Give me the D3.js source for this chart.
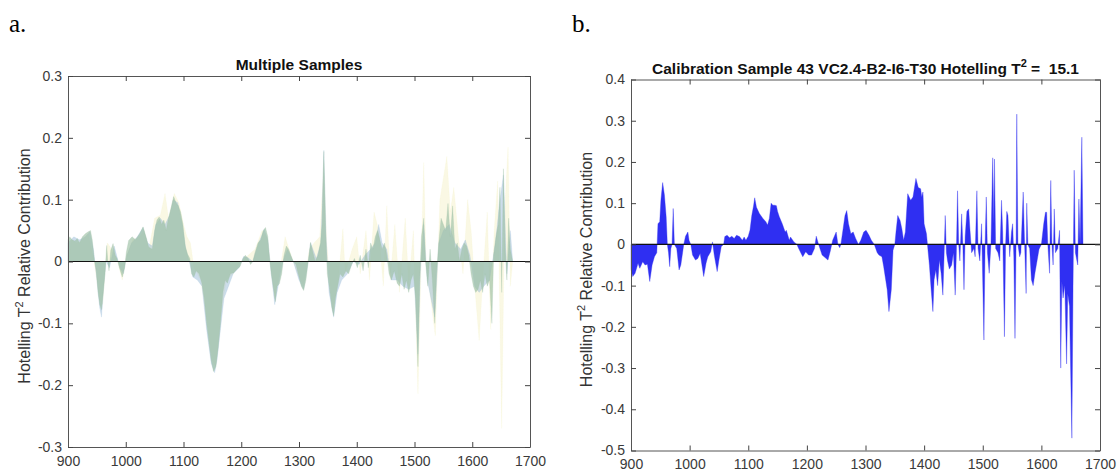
<!DOCTYPE html>
<html lang="en">
<head>
<meta charset="UTF-8"/>
<title>Hotelling T2 contributions</title>
<script src="https://d3js.org/d3.v7.min.js"></script>
<style>
  body { margin: 0; background: #fff; }
  svg { display: block; }
  .tick text { font-family: "Liberation Sans", Arial, sans-serif; font-size: 14px; fill: #3a3a3a; }
</style>
</head>
<body>
<script>

var w = 1118;
var h = 475;

// tick labels
var xTicks = [900, 1000, 1100, 1200, 1300, 1400, 1500, 1600, 1700];
var aYTicks = [-0.3, -0.2, -0.1, 0, 0.1, 0.2, 0.3];
var bYTicks = [-0.5, -0.4, -0.3, -0.2, -0.1, 0, 0.1, 0.2, 0.3, 0.4];

// panel a: several samples overlaid, [wavenumber, contribution]
var sampleYellow = [
  [900,-0.02],[905,0.035],[915,0.03],[925,0.035],[935,0.045],[945,0.0],[955,-0.06],[960,-0.07],[968,0.03],[976,0.02],
  [986,0.0],[994,-0.03],[1002,0.01],[1012,0.035],[1024,0.04],[1032,0.05],[1040,0.02],[1050,0.07],[1060,0.075],[1068,0.11],
  [1074,0.07],[1084,0.11],[1092,0.095],[1100,0.06],[1106,0.04],[1112,0.03],[1118,-0.01],[1130,-0.03],[1140,-0.09],[1150,-0.16],
  [1156,-0.17],[1164,-0.09],[1174,-0.03],[1186,-0.02],[1200,0.0],[1212,0.01],[1224,0.02],[1236,0.05],[1244,0.04],[1250,0.0],
  [1258,-0.06],[1266,-0.02],[1276,0.04],[1286,0.01],[1298,-0.02],[1308,-0.04],[1318,0.02],[1326,0.03],[1336,0.04],[1343,0.16],
  [1348,0.03],[1358,-0.08],[1368,-0.03],[1376,0.053],[1380,-0.02],[1392,0.02],[1400,0.04],[1406,-0.02],[1416,0.05],[1422,-0.03],
  [1430,0.08],[1438,0.05],[1446,-0.04],[1452,0.09],[1458,-0.03],[1466,0.06],[1474,-0.05],[1484,0.07],[1490,-0.04],[1498,0.05],
  [1506,-0.214],[1512,0.02],[1516,0.16],[1520,0.0],[1528,-0.06],[1536,-0.12],[1544,0.1],[1556,0.17],[1562,0.08],[1568,0.12],
  [1576,0.04],[1584,-0.02],[1592,0.1],[1598,0.05],[1606,-0.06],[1612,-0.128],[1618,-0.03],[1626,0.08],[1632,-0.11],[1638,0.05],
  [1644,0.13],[1651,-0.27],[1656,0.08],[1662,0.185],[1666,-0.04],[1670,0.0]
];

var sampleBlue = [
  [900,0.03],[910,0.04],[920,0.035],[930,0.04],[938,0.048],[944,0.02],[950,-0.03],[955,-0.075],[958,-0.09],[962,-0.04],
  [966,0.0],[972,-0.01],[980,0.025],[990,-0.01],[996,-0.02],[1002,0.01],[1010,0.03],[1020,0.04],[1030,0.055],[1038,0.03],
  [1046,0.025],[1052,0.06],[1060,0.07],[1068,0.06],[1076,0.075],[1082,0.1],[1090,0.095],[1098,0.06],[1104,0.02],[1110,0.0],
  [1116,-0.025],[1124,-0.03],[1132,-0.04],[1140,-0.11],[1148,-0.165],[1154,-0.18],[1158,-0.16],[1164,-0.11],[1170,-0.06],[1178,-0.04],
  [1186,-0.02],[1196,-0.01],[1204,0.008],[1212,0.006],[1220,0.0],[1230,0.03],[1240,0.052],[1246,0.035],[1252,-0.02],[1258,-0.07],
  [1264,-0.04],[1272,0.0],[1280,0.02],[1290,0.0],[1300,-0.03],[1308,-0.045],[1316,0.0],[1320,0.03],[1330,0.005],[1338,0.03],
  [1343,0.18],[1347,0.04],[1352,-0.05],[1360,-0.09],[1366,-0.05],[1374,-0.03],[1384,-0.02],[1394,0.0],[1404,-0.005],[1414,0.01],
  [1424,0.02],[1432,0.03],[1438,0.06],[1444,0.03],[1452,0.02],[1460,-0.03],[1470,-0.03],[1480,-0.04],[1490,-0.045],[1500,-0.04],
  [1506,-0.15],[1510,-0.02],[1516,0.06],[1522,-0.03],[1535,-0.09],[1542,0.03],[1550,0.05],[1560,0.06],[1570,0.03],[1580,0.02],
  [1588,0.035],[1596,0.01],[1604,-0.04],[1612,-0.05],[1620,-0.04],[1630,-0.03],[1640,0.03],[1648,0.1],[1654,0.14],[1660,-0.02],
  [1666,0.05],[1670,0.0]
];

var sampleGreen = [
  [900,0.035],[903,0.04],[907,0.035],[912,0.033],[916,0.037],[920,0.03],[925,0.04],[930,0.045],[935,0.048],[939,0.05],
  [942,0.035],[946,0.0],[949,-0.015],[952,-0.05],[955,-0.07],[958,-0.078],[961,-0.05],[964,-0.02],[967,0.026],[969,0.0],
  [971,-0.015],[974,0.018],[978,0.029],[982,0.01],[985,0.005],[989,-0.01],[994,-0.025],[998,-0.01],[1001,0.015],[1005,0.034],
  [1011,0.04],[1017,0.035],[1024,0.045],[1030,0.056],[1035,0.04],[1040,0.023],[1046,0.02],[1050,0.05],[1054,0.067],[1058,0.072],
  [1062,0.06],[1066,0.067],[1070,0.05],[1074,0.07],[1079,0.088],[1083,0.105],[1087,0.095],[1091,0.09],[1095,0.08],[1099,0.06],
  [1103,0.025],[1107,0.012],[1111,0.005],[1114,-0.02],[1118,-0.025],[1122,-0.015],[1127,-0.02],[1132,-0.035],[1136,-0.06],[1140,-0.1],
  [1144,-0.13],[1148,-0.16],[1152,-0.178],[1156,-0.17],[1160,-0.14],[1164,-0.1],[1168,-0.05],[1172,-0.03],[1176,-0.035],[1181,-0.02],
  [1187,-0.018],[1193,-0.012],[1198,-0.008],[1203,0.005],[1207,0.01],[1212,0.005],[1216,-0.005],[1220,0.0],[1224,0.015],[1229,0.03],
  [1234,0.035],[1238,0.05],[1242,0.055],[1246,0.04],[1249,0.005],[1252,-0.02],[1256,-0.045],[1259,-0.065],[1262,-0.04],[1266,-0.036],
  [1270,-0.02],[1274,0.01],[1278,0.025],[1282,0.02],[1286,0.01],[1290,0.0],[1295,-0.005],[1300,-0.025],[1304,-0.04],[1308,-0.047],
  [1312,-0.03],[1316,0.0],[1320,0.031],[1324,0.015],[1328,0.0],[1333,0.01],[1337,0.03],[1340,0.06],[1343,0.178],[1346,0.05],
  [1349,-0.02],[1353,-0.045],[1357,-0.075],[1360,-0.088],[1363,-0.06],[1367,-0.04],[1371,-0.02],[1376,-0.025],[1381,-0.015],[1386,-0.02],
  [1391,-0.005],[1396,0.005],[1401,-0.01],[1406,0.01],[1411,-0.015],[1416,0.02],[1420,-0.01],[1424,0.03],[1428,0.02],[1432,0.04],
  [1436,0.05],[1440,0.035],[1444,0.02],[1448,0.03],[1452,0.01],[1456,-0.02],[1460,-0.03],[1465,-0.015],[1470,-0.035],[1474,-0.04],
  [1478,-0.02],[1482,-0.045],[1486,-0.03],[1490,-0.05],[1494,-0.03],[1498,-0.02],[1502,-0.06],[1506,-0.17],[1509,-0.03],[1512,0.04],
  [1516,0.07],[1519,0.0],[1523,-0.04],[1527,0.02],[1531,-0.03],[1535,-0.1],[1538,-0.02],[1542,0.03],[1546,0.07],[1550,0.06],
  [1554,0.05],[1558,0.094],[1562,0.04],[1566,0.09],[1570,0.02],[1574,0.03],[1578,0.0],[1582,0.02],[1586,0.03],[1590,0.025],
  [1594,0.01],[1598,-0.02],[1602,-0.04],[1606,-0.05],[1610,-0.045],[1614,-0.03],[1618,-0.05],[1622,-0.02],[1626,-0.04],[1630,-0.03],
  [1634,-0.1],[1637,0.01],[1641,0.04],[1645,0.06],[1648,0.12],[1651,-0.05],[1654,0.15],[1657,0.02],[1660,-0.03],[1663,0.07],
  [1666,0.02],[1670,0.0]
];

// panel b: calibration sample 43
var sample43 = [
  [900,-0.06],[903,-0.078],[907,-0.07],[912,-0.046],[915,-0.058],[920,-0.042],[924,-0.05],[928,-0.048],[932,-0.09],[936,-0.05],
  [940,-0.03],[944,-0.02],[946,0.05],[949,0.055],[951,0.107],[954,0.15],[957,0.12],[960,0.067],[962,0.0],[964,-0.02],
  [966,-0.054],[968,-0.01],[970,0.0],[972,0.087],[974,0.0],[978,-0.01],[982,-0.062],[985,-0.05],[988,-0.02],[990,0.0],
  [993,0.02],[997,0.03],[999,0.01],[1002,0.0],[1005,-0.026],[1010,-0.038],[1014,-0.034],[1018,-0.022],[1024,-0.078],[1028,-0.046],
  [1031,-0.03],[1036,-0.018],[1039,0.006],[1042,-0.026],[1047,-0.066],[1050,-0.038],[1054,-0.005],[1058,0.0],[1060,0.019],[1064,0.022],
  [1068,0.016],[1072,0.02],[1076,0.014],[1080,0.022],[1085,0.019],[1090,0.01],[1093,0.018],[1096,0.01],[1100,0.02],[1103,0.035],
  [1106,0.07],[1109,0.093],[1111,0.113],[1114,0.09],[1119,0.075],[1125,0.063],[1130,0.055],[1133,0.047],[1136,0.063],[1139,0.1],
  [1142,0.095],[1145,0.095],[1148,0.094],[1150,0.08],[1153,0.067],[1158,0.05],[1163,0.03],[1165,0.034],[1170,0.01],[1172,0.018],
  [1178,0.006],[1183,0.0],[1186,-0.01],[1193,-0.03],[1198,-0.018],[1203,-0.026],[1208,-0.026],[1213,-0.01],[1216,0.02],[1220,0.0],
  [1226,-0.026],[1231,-0.032],[1236,-0.038],[1240,-0.016],[1244,0.01],[1250,0.03],[1253,0.0],[1256,-0.008],[1258,0.0],[1262,0.04],
  [1265,0.07],[1268,0.082],[1271,0.05],[1275,0.026],[1279,0.03],[1283,0.015],[1288,0.0],[1292,0.01],[1297,0.03],[1301,0.034],
  [1306,0.022],[1310,0.01],[1315,0.0],[1320,-0.02],[1323,-0.026],[1328,-0.03],[1331,-0.054],[1337,-0.11],[1340,-0.163],[1344,-0.11],
  [1347,-0.014],[1350,0.0],[1352,0.03],[1355,0.07],[1359,0.058],[1362,0.038],[1365,0.01],[1368,0.03],[1372,0.123],[1377,0.107],
  [1381,0.115],[1386,0.16],[1390,0.138],[1394,0.135],[1396,0.115],[1398,0.127],[1400,0.05],[1404,0.026],[1407,-0.02],[1409,-0.05],
  [1412,-0.11],[1415,-0.163],[1417,-0.086],[1420,-0.062],[1423,-0.1],[1426,-0.038],[1429,-0.07],[1432,-0.123],[1434,-0.03],[1436,0.07],
  [1438,-0.02],[1440,-0.04],[1443,-0.06],[1447,-0.05],[1450,-0.02],[1453,-0.123],[1455,-0.02],[1457,0.13],[1459,0.0],[1461,-0.04],
  [1464,0.074],[1466,0.0],[1468,-0.11],[1470,0.02],[1473,0.08],[1476,0.086],[1478,0.04],[1481,-0.02],[1485,-0.01],[1487,-0.03],
  [1490,0.13],[1492,-0.01],[1495,-0.04],[1498,0.05],[1502,-0.232],[1504,0.0],[1506,0.115],[1508,-0.02],[1511,-0.07],[1514,0.0],
  [1517,0.21],[1519,0.05],[1520,0.207],[1522,-0.01],[1526,-0.02],[1529,-0.04],[1532,0.107],[1534,0.03],[1537,-0.224],[1539,0.0],
  [1541,0.08],[1543,0.07],[1546,-0.03],[1549,0.03],[1551,0.05],[1553,-0.03],[1555,-0.228],[1557,0.02],[1558,0.316],[1560,0.0],
  [1563,-0.03],[1565,-0.02],[1569,0.127],[1571,0.02],[1574,-0.119],[1575,0.1],[1577,0.0],[1580,-0.01],[1583,-0.086],[1586,-0.1],
  [1589,-0.07],[1592,-0.045],[1596,-0.012],[1600,0.0],[1604,0.05],[1607,0.078],[1609,0.078],[1611,0.0],[1614,-0.07],[1616,0.155],
  [1618,0.0],[1620,-0.05],[1622,0.086],[1624,-0.02],[1628,-0.01],[1631,0.034],[1633,-0.3],[1635,-0.09],[1637,-0.13],[1640,-0.1],
  [1643,-0.29],[1645,-0.12],[1648,-0.15],[1652,-0.47],[1654,-0.1],[1656,0.18],[1658,-0.02],[1662,-0.05],[1664,0.11],[1666,0.0],
  [1669,0.26],[1671,0.0]
];

var svg = d3.select("body")
  .append("svg")
  .attr("width", w)
  .attr("height", h);

function drawPanel(p) {
  var xScale = d3.scaleLinear().domain([900, 1700]).range([p.left, p.right]);
  var yScale = d3.scaleLinear().domain(p.yDomain).range([p.bottom, p.top]);
  var fmt = function(d) { return d === 0 ? "0" : String(+d.toFixed(1)); };

  var area = d3.area()
    .x(function(d) { return xScale(d[0]); })
    .y0(yScale(0))
    .y1(function(d) { return yScale(d[1]); });

  p.series.forEach(function(s) {
    svg.append("path")
      .datum(s.data)
      .attr("d", area)
      .attr("fill", s.color)
      .attr("fill-opacity", s.opacity)
      .attr("stroke", s.color)
      .attr("stroke-opacity", s.opacity * 0.6)
      .attr("stroke-width", 0.6);
  });

  // zero line
  svg.append("line")
    .attr("x1", xScale(900)).attr("x2", xScale(1700))
    .attr("y1", yScale(0)).attr("y2", yScale(0))
    .attr("stroke", "#111").attr("stroke-width", 1.1);

  // axes, ticks pointing inside like matlab
  var bottom = svg.append("g")
    .attr("transform", "translate(0," + p.bottom + ")")
    .call(d3.axisBottom(xScale).tickValues(xTicks).tickFormat(d3.format("d"))
      .tickSizeInner(-5).tickSizeOuter(0).tickPadding(9));
  var top = svg.append("g")
    .attr("transform", "translate(0," + p.top + ")")
    .call(d3.axisTop(xScale).tickValues(xTicks).tickSizeInner(-5).tickSizeOuter(0).tickFormat(""));
  var left = svg.append("g")
    .attr("transform", "translate(" + p.left + ",0)")
    .call(d3.axisLeft(yScale).tickValues(p.yTicks).tickFormat(fmt).tickSizeInner(-5).tickSizeOuter(0).tickPadding(6));
  var right = svg.append("g")
    .attr("transform", "translate(" + p.right + ",0)")
    .call(d3.axisRight(yScale).tickValues(p.yTicks).tickSizeInner(-5).tickSizeOuter(0).tickFormat(""));
  [bottom, top, left, right].forEach(function(g) {
    g.select(".domain").attr("stroke", "#555").attr("stroke-width", 1);
    g.selectAll(".tick line").attr("stroke", "#444");
  });

  // title
  var title = svg.append("text")
    .attr("x", (p.left + p.right) / 2)
    .attr("y", p.top - 6)
    .attr("text-anchor", "middle")
    .attr("xml:space", "preserve")
    .style("font-family", "Liberation Sans, Arial, sans-serif")
    .style("font-size", "15.5px")
    .style("font-weight", "bold")
    .attr("fill", "#111");
  title.append("tspan").text(p.title[0]);
  if (p.title.length > 1) {
    title.append("tspan").attr("dy", -7).style("font-size", "11px").text("2");
    title.append("tspan").attr("dy", 7).text(p.title[1]);
  }

  // y label
  var yl = svg.append("text")
    .attr("transform", "translate(" + p.ylabelX + "," + ((p.top + p.bottom) / 2 + 4.5) + ") rotate(-90)")
    .attr("text-anchor", "middle")
    .style("font-family", "Liberation Sans, Arial, sans-serif")
    .style("font-size", "16px")
    .attr("fill", "#333");
  yl.append("tspan").text("Hotelling T");
  yl.append("tspan").attr("dy", -7).style("font-size", "11px").text("2");
  yl.append("tspan").attr("dy", 7).text(" Relative Contribution");

  // panel letter
  svg.append("text")
    .attr("x", p.letterX)
    .attr("y", 32)
    .style("font-family", "Liberation Serif, Times New Roman, serif")
    .style("font-size", "25px")
    .attr("fill", "#000")
    .text(p.letter);
}

drawPanel({
  left: 68, right: 530, top: 76, bottom: 447,
  yDomain: [-0.3, 0.3], yTicks: aYTicks,
  title: ["Multiple Samples"],
  ylabelX: 30, letterX: 9, letter: "a.",
  series: [
    { data: sampleYellow, color: "#eee9a6", opacity: 0.3 },
    { data: sampleBlue, color: "#8db3d2", opacity: 0.45 },
    { data: sampleGreen, color: "#9dc0a4", opacity: 0.65 }
  ]
});

drawPanel({
  left: 631, right: 1100, top: 79.5, bottom: 450.5,
  yDomain: [-0.5, 0.4], yTicks: bYTicks,
  title: ["Calibration Sample 43 VC2.4-B2-I6-T30 Hotelling T", " =  15.1"],
  ylabelX: 592, letterX: 572, letter: "b.",
  series: [
    { data: sample43, color: "#2f2ff2", opacity: 1 }
  ]
});

</script>
</body>
</html>
